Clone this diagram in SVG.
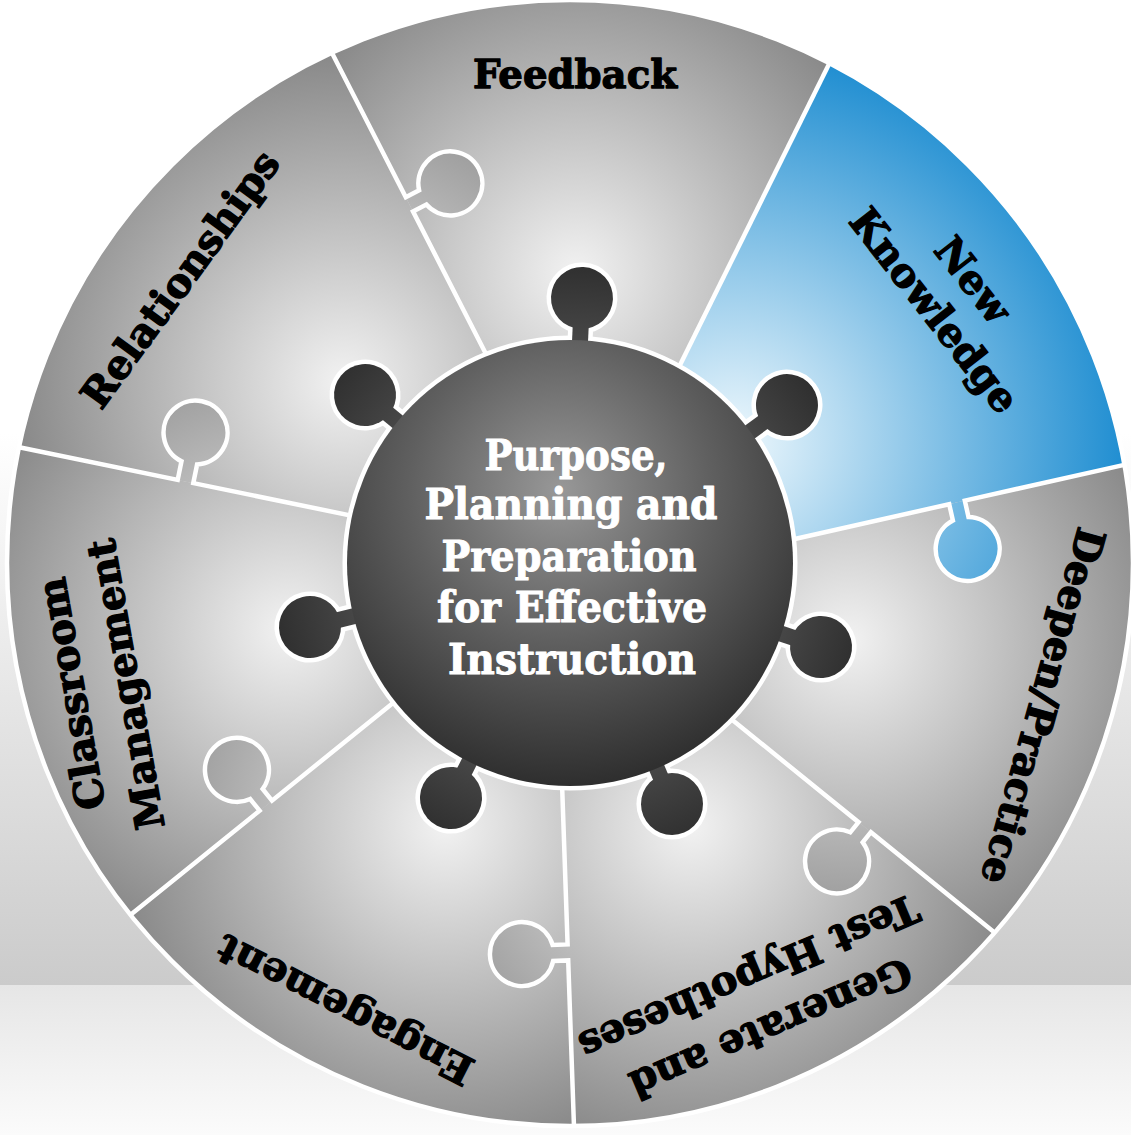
<svg xmlns="http://www.w3.org/2000/svg" xmlns:xlink="http://www.w3.org/1999/xlink" width="1131" height="1135" viewBox="0 0 1131 1135">
<style>
.lbl{font-family:"DejaVu Serif","Liberation Serif",serif;font-weight:bold;font-size:40px;fill:#000;stroke:#000;stroke-width:1.3;stroke-linejoin:round;text-anchor:middle}
.ctr{font-family:"DejaVu Serif","Liberation Serif",serif;font-weight:bold;font-size:42px;fill:#fff;stroke:#fff;stroke-width:1;stroke-linejoin:round;text-anchor:middle}
.line{fill:none;stroke:#fff;stroke-width:4.5;stroke-linejoin:miter}
</style>
<defs>
<linearGradient id="bg" gradientUnits="userSpaceOnUse" x1="0" y1="0" x2="0" y2="985"><stop offset="0.44" stop-color="#ffffff"/><stop offset="1" stop-color="#cbcbcb"/></linearGradient>
<linearGradient id="floor" gradientUnits="userSpaceOnUse" x1="0" y1="985" x2="0" y2="1135"><stop offset="0" stop-color="#e6e6e6"/><stop offset="1" stop-color="#fbfbfb"/></linearGradient>
<radialGradient id="gray" gradientUnits="userSpaceOnUse" cx="0" cy="0" r="340"><stop offset="0" stop-color="#f2f2f2"/><stop offset="1" stop-color="#858585"/></radialGradient>
<radialGradient id="gF" xlink:href="#gray" cx="576" cy="273" r="340"/>
<radialGradient id="gD" xlink:href="#gray" cx="849" cy="640" r="340"/>
<radialGradient id="gG" xlink:href="#gray" cx="691" cy="826" r="340"/>
<radialGradient id="gE" xlink:href="#gray" cx="445" cy="825" r="340"/>
<radialGradient id="gC" xlink:href="#gray" cx="288" cy="630" r="340"/>
<radialGradient id="gR" xlink:href="#gray" cx="343" cy="382" r="340"/>
<radialGradient id="gN" gradientUnits="userSpaceOnUse" cx="735" cy="440" r="400"><stop offset="0" stop-color="#eef8fd"/><stop offset="1" stop-color="#1a8bd0"/></radialGradient>
<radialGradient id="gc" gradientUnits="userSpaceOnUse" cx="560" cy="490" r="300"><stop offset="0" stop-color="#989898"/><stop offset="0.5" stop-color="#606060"/><stop offset="1" stop-color="#2d2d2d"/></radialGradient>
<radialGradient id="gk" gradientUnits="userSpaceOnUse" cx="0" cy="0" r="300"><stop offset="0.7" stop-color="#4a4a4a"/><stop offset="1" stop-color="#2f2f2f"/></radialGradient>
<clipPath id="wheel"><circle cx="570" cy="563" r="564"/></clipPath>
</defs>

<g id="background">
<rect x="0" y="0" width="1131" height="985" fill="url(#bg)"/>
<rect x="0" y="985" width="1131" height="150" fill="url(#floor)"/>
</g>

<g id="segments">
<g id="seg-feedback"><path d="M511.3 403.4 L331.5 52 A564 564 0 0 1 829.8 62.4 L653.4 418.8 L570 563 Z" fill="url(#gF)"/>
<text class="lbl" x="575" y="88" textLength="204" lengthAdjust="spacingAndGlyphs">Feedback</text></g>
<g id="seg-new-knowledge"><path d="M653.4 418.8 L829.8 62.4 A564 564 0 0 1 1125.3 464.6 L731.5 553.2 L570 563 Z" fill="url(#gN)"/>
<g transform="translate(954 295) rotate(52)"><text class="lbl" x="0" y="-10.5">New</text><text class="lbl" x="0" y="38.8">Knowledge</text></g></g>
<g id="seg-deepen"><path d="M731.5 553.2 L1125.3 464.6 A564 564 0 0 1 995.4 933.3 L683.4 680.2 L570 563 Z" fill="url(#gD)"/>
<g transform="translate(1043 706) rotate(105.5)"><text class="lbl" x="0" y="14">Deepen/Practice</text></g></g>
<g id="seg-generate"><path d="M683.4 680.2 L995.4 933.3 A564 564 0 0 1 574 1127 L560 725 L570 563 Z" fill="url(#gG)"/>
<g transform="translate(760 1003) rotate(157)"><text class="lbl" x="0" y="-13.8">Generate and</text><text class="lbl" x="0" y="41.8">Test Hypotheses</text></g></g>
<g id="seg-engagement"><path d="M560 725 L574 1127 A564 564 0 0 1 129.7 915.5 L439.7 665.3 L570 563 Z" fill="url(#gE)"/>
<g transform="translate(345 1010) rotate(207)"><text class="lbl" x="0" y="14">Engagement</text></g></g>
<g id="seg-classroom"><path d="M439.7 665.3 L129.7 915.5 A564 564 0 0 1 18 447 L406.8 527.1 L570 563 Z" fill="url(#gC)"/>
<g transform="translate(93 690) rotate(260)"><text class="lbl" x="0" y="-8.1">Classroom</text><text class="lbl" x="0" y="47">Management</text></g></g>
<g id="seg-relationships"><path d="M406.8 527.1 L18 447 A564 564 0 0 1 331.5 52 L511.3 403.4 L570 563 Z" fill="url(#gR)"/>
<g transform="translate(180 279) rotate(-54)"><text class="lbl" x="0" y="14">Relationships</text></g></g>
</g>

<g id="tabs">
<path d="M405.8 197.2 L419.1 190.3 A32 32 0 1 1 426.4 204.6 L413 211.4 Z" fill="url(#gR)"/>
<path d="M177.7 479.9 L181.5 461.3 A32 32 0 1 1 197.1 464.5 L193.3 483.1 Z" fill="url(#gC)"/>
<path d="M964.8 500.6 L968.5 517 A32 32 0 1 1 952.9 520.6 L949.2 504.2 Z" fill="url(#gN)"/>
<path d="M870.9 832.2 L862.7 842.3 A32 32 0 1 1 850.3 832.3 L858.5 822.2 Z" fill="url(#gD)"/>
<path d="M568.2 960.4 L553.2 960.9 A32 32 0 1 1 552.6 944.9 L567.6 944.4 Z" fill="url(#gG)"/>
<path d="M259.6 810.7 L250.2 799 A32 32 0 1 1 262.6 789 L272 800.7 Z" fill="url(#gE)"/>
</g>

<g id="connectors" clip-path="url(#wheel)">
<path class="line" d="M331.5 52 L405.8 197.2 L419.1 190.3 A32 32 0 1 1 426.4 204.6 L413 211.4 L511.3 403.4"/>
<path class="line" d="M829.8 62.4 L653.4 418.8"/>
<path class="line" d="M1125.3 464.6 L964.8 500.6 L968.5 517 A32 32 0 1 1 952.9 520.6 L949.2 504.2 L731.5 553.2"/>
<path class="line" d="M995.4 933.3 L870.9 832.2 L862.7 842.3 A32 32 0 1 1 850.3 832.3 L858.5 822.2 L683.4 680.2"/>
<path class="line" d="M574 1127 L568.2 960.4 L553.2 960.9 A32 32 0 1 1 552.6 944.9 L567.6 944.4 L560 725"/>
<path class="line" d="M129.7 915.5 L259.6 810.7 L250.2 799 A32 32 0 1 1 262.6 789 L272 800.7 L439.7 665.3"/>
<path class="line" d="M18 447 L177.7 479.9 L181.5 461.3 A32 32 0 1 1 197.1 464.5 L193.3 483.1 L406.8 527.1"/>
</g>
<circle id="rim" cx="570" cy="563" r="563" fill="none" stroke="#fff" stroke-width="4.5"/>

<g id="hub">
<g id="hub-outline" fill="#fff" stroke="#fff" stroke-width="9">
<circle cx="570" cy="563" r="223"/>
<g transform="translate(570 563) rotate(2.59)"><circle cx="0" cy="-265.3" r="31"/><rect x="-8" y="-265.3" width="16" height="65"/></g>
<g transform="translate(570 563) rotate(53.94)"><circle cx="0" cy="-268.4" r="31"/><rect x="-8" y="-268.4" width="16" height="68"/></g>
<g transform="translate(570 563) rotate(108.5)"><circle cx="0" cy="-264.7" r="31"/><rect x="-8" y="-264.7" width="16" height="65"/></g>
<g transform="translate(570 563) rotate(157.06)"><circle cx="0" cy="-261.7" r="31"/><rect x="-8" y="-261.7" width="16" height="62"/></g>
<g transform="translate(570 563) rotate(206.86)"><circle cx="0" cy="-263.4" r="31"/><rect x="-8" y="-263.4" width="16" height="63"/></g>
<g transform="translate(570 563) rotate(256.17)"><circle cx="0" cy="-267.8" r="31"/><rect x="-8" y="-267.8" width="16" height="68"/></g>
<g transform="translate(570 563) rotate(309.33)"><circle cx="0" cy="-265" r="31"/><rect x="-8" y="-265" width="16" height="65"/></g>
</g>
<g id="hub-knobs" fill="url(#gk)">
<g transform="translate(570 563) rotate(2.59)"><circle cx="0" cy="-265.3" r="31"/><rect x="-8" y="-265.3" width="16" height="65"/></g>
<g transform="translate(570 563) rotate(53.94)"><circle cx="0" cy="-268.4" r="31"/><rect x="-8" y="-268.4" width="16" height="68"/></g>
<g transform="translate(570 563) rotate(108.5)"><circle cx="0" cy="-264.7" r="31"/><rect x="-8" y="-264.7" width="16" height="65"/></g>
<g transform="translate(570 563) rotate(157.06)"><circle cx="0" cy="-261.7" r="31"/><rect x="-8" y="-261.7" width="16" height="62"/></g>
<g transform="translate(570 563) rotate(206.86)"><circle cx="0" cy="-263.4" r="31"/><rect x="-8" y="-263.4" width="16" height="63"/></g>
<g transform="translate(570 563) rotate(256.17)"><circle cx="0" cy="-267.8" r="31"/><rect x="-8" y="-267.8" width="16" height="68"/></g>
<g transform="translate(570 563) rotate(309.33)"><circle cx="0" cy="-265" r="31"/><rect x="-8" y="-265" width="16" height="65"/></g>
</g>
<circle id="hub-core" cx="570" cy="563" r="223" fill="url(#gc)"/>
<g id="hub-label">
<text class="ctr" x="576" y="470" textLength="183" lengthAdjust="spacingAndGlyphs">Purpose,</text>
<text class="ctr" x="571" y="519" textLength="293" lengthAdjust="spacingAndGlyphs">Planning and</text>
<text class="ctr" x="569" y="571" textLength="255" lengthAdjust="spacingAndGlyphs">Preparation</text>
<text class="ctr" x="572" y="622" textLength="270" lengthAdjust="spacingAndGlyphs">for Effective</text>
<text class="ctr" x="572" y="674" textLength="248" lengthAdjust="spacingAndGlyphs">Instruction</text>
</g>
</g>
</svg>
